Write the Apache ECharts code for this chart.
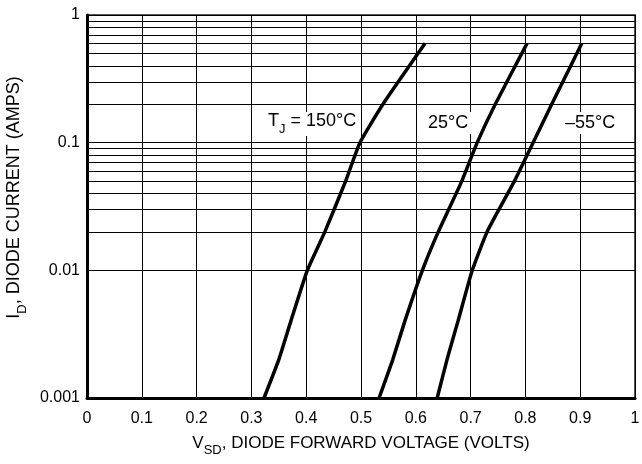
<!DOCTYPE html>
<html>
<head>
<meta charset="utf-8">
<script src="https://cdn.jsdelivr.net/npm/echarts@6/dist/echarts.min.js"></script>
<style>html,body{margin:0;padding:0;background:#fff}#c{width:642px;height:464px}</style>
</head>
<body>
<div id="c"></div>
<script>
// Data (VSD volts, ID amps)
var seriesNames = ['150°C', '25°C', '-55°C'];
var tj150 = [[0.323,0.001],[0.35,0.002],[0.372,0.004],[0.402,0.01],[0.434,0.02],[0.472,0.05],[0.498,0.1],[0.54,0.2],[0.617,0.6]];
var tj25  = [[0.533,0.001],[0.558,0.002],[0.58,0.004],[0.612,0.01],[0.641,0.02],[0.684,0.05],[0.712,0.1],[0.745,0.2],[0.803,0.6]];
var tjm55 = [[0.639,0.001],[0.657,0.002],[0.677,0.004],[0.703,0.01],[0.73,0.02],[0.78,0.05],[0.814,0.1],[0.848,0.2],[0.903,0.6]];
var xTickLabels = ['0','0.1','0.2','0.3','0.4','0.5','0.6','0.7','0.8','0.9','1'];
var yTickValues = [0.001, 0.01, 0.1, 1];
var yTickLabels = ['0.001','0.01','0.1','1'];
var minorMultipliers = [2,3,4,5,6,7,8,9];
var decades = [0.001, 0.01, 0.1];

var minorValues = [];
decades.forEach(function(d){ minorMultipliers.forEach(function(m){ minorValues.push(+(m*d).toPrecision(3)); }); });

var FONT = "'Liberation Sans', Arial, sans-serif";
var chart = echarts.init(document.getElementById('c'));

function curve(name, data){
  return {
    name: name, type: 'line', data: data, showSymbol: false, symbol: 'none', smooth: 0.15,
    lineStyle: {color: '#000', width: 3.5}, z: 5, silent: true, animation: false
  };
}

chart.setOption({
  animation: false,
  backgroundColor: '#fff',
  grid: {left: 87, right: 7, top: 15, bottom: 66, outerBoundsMode: 'none', containLabel: false,
         show: true, borderColor: '#555', borderWidth: 2, backgroundColor: 'transparent'},
  xAxis: {
    type: 'value', min: 0, max: 1, interval: 0.1,
    axisLine: {show: true, lineStyle: {color: '#000', width: 3}},
    axisTick: {show: false},
    splitLine: {show: true, lineStyle: {color: '#000', width: 1}},
    axisLabel: {color: '#000', fontFamily: FONT, fontSize: 16, margin: 13,
      formatter: function(v){ return xTickLabels[Math.round(v*10)]; }},
    name: '{m|V}{s|SD}{m|, DIODE FORWARD VOLTAGE (VOLTS)}',
    nameLocation: 'middle', nameGap: 37,
    nameTextStyle: {color: '#000', fontFamily: FONT,
      rich: {m: {fontSize: 17, fontFamily: FONT, color: '#000', lineHeight: 22, verticalAlign: 'top'},
             s: {fontSize: 13, fontFamily: FONT, color: '#000', lineHeight: 22, verticalAlign: 'bottom'}}}
  },
  yAxis: {
    type: 'log', logBase: 10, min: 0.001, max: 1,
    axisLine: {show: true, lineStyle: {color: '#000', width: 3}},
    axisTick: {show: false},
    splitLine: {show: true, lineStyle: {color: '#000', width: 1}},
    axisLabel: {color: '#000', fontFamily: FONT, fontSize: 16, margin: 7,
      formatter: function(v){
        for (var i=0;i<yTickValues.length;i++){ if (Math.abs(Math.log10(v)-Math.log10(yTickValues[i]))<1e-6) return yTickLabels[i]; }
        return '';
      }},
    name: '{m|I}{s|D}{m|, DIODE CURRENT (AMPS)}',
    nameLocation: 'middle', nameGap: 57, nameRotate: 90,
    nameTextStyle: {color: '#000', fontFamily: FONT, padding: [0, 0, 0, 18],
      rich: {m: {fontSize: 18, fontFamily: FONT, color: '#000', lineHeight: 24, verticalAlign: 'top'},
             s: {fontSize: 13, fontFamily: FONT, color: '#000', lineHeight: 24, verticalAlign: 'bottom'}}}
  },
  series: [
    {
      name: 'grid-minor', type: 'line', data: [], silent: true, z: 1,
      markLine: {
        silent: true, symbol: ['none','none'], animation: false,
        label: {show: false},
        lineStyle: {color: '#000', width: 1, type: 'solid'},
        emphasis: {disabled: true},
        data: minorValues.map(function(v){ return {yAxis: v}; })
      }
    },
    curve(seriesNames[0], tj150),
    curve(seriesNames[1], tj25),
    curve(seriesNames[2], tjm55)
  ],
  graphic: [
    {type: 'text', left: 264, top: 112, z: 10, silent: true,
     style: {text: '{m|T}{s|J}{m| = 150°C}', backgroundColor: '#fff', padding: [0,4,0,4],
       rich: {m: {fontSize: 18, fontFamily: FONT, fill: '#000', lineHeight: 24, verticalAlign: 'top'},
              s: {fontSize: 13, fontFamily: FONT, fill: '#000', lineHeight: 24, verticalAlign: 'bottom'}}}},
    {type: 'text', left: 424, top: 112, z: 10, silent: true,
     style: {text: '25°C', backgroundColor: '#fff', padding: [2,4,2,4], fontSize: 18, fontFamily: FONT, fill: '#000'}},
    {type: 'text', left: 561, top: 112, z: 10, silent: true,
     style: {text: '\u201355°C', backgroundColor: '#fff', padding: [2,4,2,4], fontSize: 18, fontFamily: FONT, fill: '#000'}}
  ]
});
</script>
</body>
</html>
